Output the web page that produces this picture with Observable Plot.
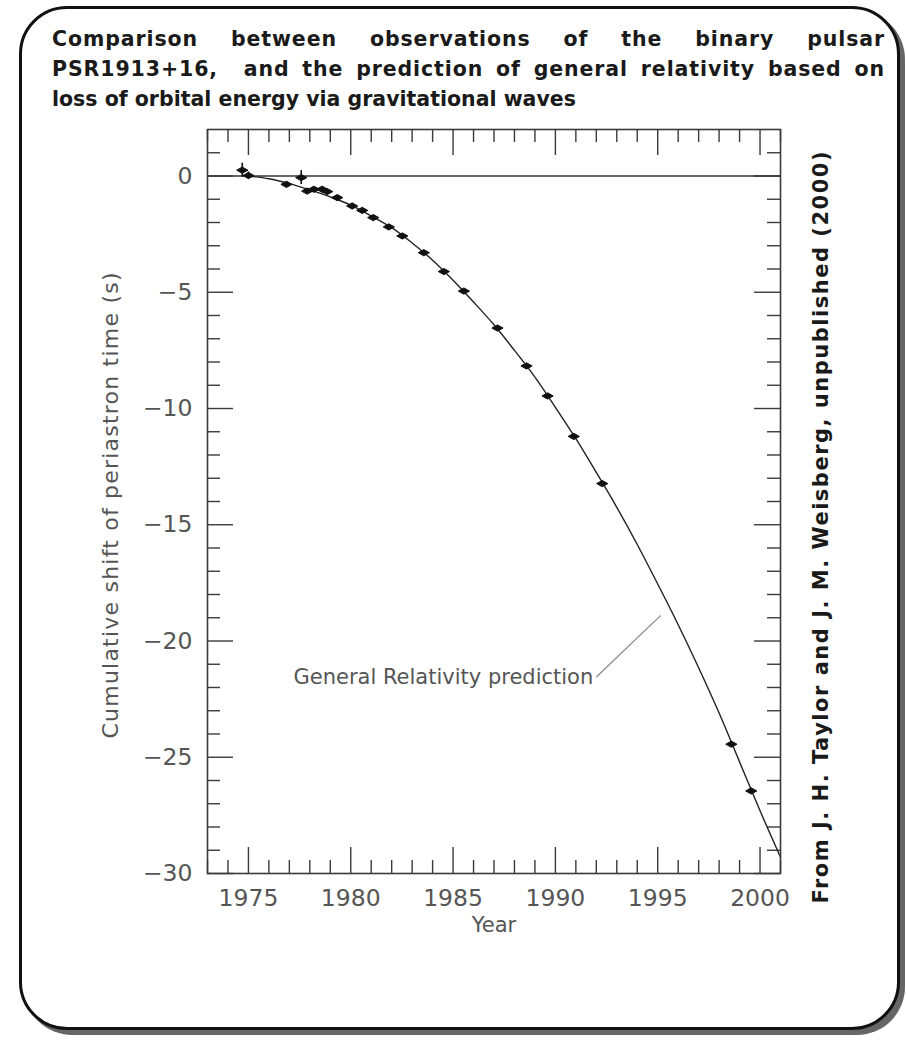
<!DOCTYPE html>
<html><head><meta charset="utf-8">
<script src="https://cdn.jsdelivr.net/npm/d3@7"></script>
<script src="https://cdn.jsdelivr.net/npm/@observablehq/plot@0.6"></script>
<style>
html,body{margin:0;background:#fff;}
body{width:906px;height:1040px;position:relative;overflow:hidden;}
#box{position:absolute;left:19px;top:6px;width:881px;height:1024px;box-sizing:border-box;border:3px solid #111;border-radius:48px;box-shadow:5px 5px 0 #666;background:#fff;}
#title{position:absolute;left:52px;top:24px;width:833px;font-family:"DejaVu Sans";font-weight:bold;font-size:20.5px;line-height:30px;color:#1a1a1a;}
#title .j{text-align:justify;text-align-last:justify;letter-spacing:0.9px;}
#chart{position:absolute;left:60px;top:120px;}
</style></head>
<body>
<div id="box"></div>
<div id="title">
<div class="j">Comparison between observations of the binary pulsar</div>
<div class="j">PSR1913+16,&nbsp; and the prediction of general relativity based on</div>
<div>loss of orbital energy via gravitational waves</div>
</div>
<div id="chart"></div>
<script>
// General Relativity prediction curve
const curveYear  = [1975, 1976, 1977, 1978, 1979, 1980, 1981, 1982, 1983, 1984, 1985, 1986, 1987, 1988, 1989, 1990, 1991, 1992, 1993, 1994, 1995, 1996, 1997, 1998, 1999, 2000, 2001];
const curveShift = [0, -0.12, -0.33, -0.6, -0.9, -1.25, -1.72, -2.22, -2.88, -3.62, -4.48, -5.42, -6.4, -7.5, -8.65, -9.95, -11.3, -12.75, -14.25, -15.85, -17.55, -19.3, -21.15, -23.1, -25.2, -27.3, -29.3];

// Observations
const obsYear  = [1974.7, 1975.0, 1976.86, 1977.58, 1977.87, 1978.2, 1978.6, 1978.85, 1979.34, 1980.07, 1980.56, 1981.1, 1981.86, 1982.52, 1983.57, 1984.55, 1985.53, 1987.17, 1988.59, 1989.62, 1990.9, 1992.29, 1998.6, 1999.57];
const obsShift = [0.25, 0.02, -0.36, -0.07, -0.65, -0.57, -0.57, -0.67, -0.93, -1.29, -1.48, -1.79, -2.19, -2.58, -3.3, -4.11, -4.95, -6.54, -8.17, -9.46, -11.2, -13.23, -24.44, -26.45];
const obsErr   = [0.3, 0.15, 0.1, 0.3, 0.1, 0.08, 0.08, 0.08, 0.08, 0.08, 0.08, 0.08, 0.08, 0.08, 0.08, 0.08, 0.08, 0.08, 0.08, 0.08, 0.08, 0.08, 0.08, 0.08];

// Axis ticks
const xMajor = [1975, 1980, 1985, 1990, 1995, 2000];
const xMinor = [1973, 1974, 1976, 1977, 1978, 1979, 1981, 1982, 1983, 1984, 1986, 1987, 1988, 1989, 1991, 1992, 1993, 1994, 1996, 1997, 1998, 1999, 2001];
const yMajor = [0, -5, -10, -15, -20, -25, -30];
const yMinor = [1, -1, -2, -3, -4, -6, -7, -8, -9, -11, -12, -13, -14, -16, -17, -18, -19, -21, -22, -23, -24, -26, -27, -28, -29];

const xLabel = "Year";
const yLabel = "Cumulative shift of periastron time (s)";
const annotation = "General Relativity prediction";
const annotAt = {year: 1991.85, shift: -21.55};
const leader = {year1: 1992.0, shift1: -21.55, year2: 1995.15, shift2: -18.9};
const credit = "From J. H. Taylor and J. M. Weisberg, unpublished (2000)";

const curve = curveYear.map((y, i) => ({year: y, shift: curveShift[i]}));
const obs = obsYear.map((y, i) => ({year: y, shift: obsShift[i], err: obsErr[i]}));

const W = 830, H = 820;
const mL = 147, mR = 110, mT = 9, mB = 67;
const fw = W - mL - mR, fh = H - mT - mB;
const majLen = 26, minLen = 13;
const axisColor = "#3a3a3a";
const textColor = "#555";

// wide, flat diamond marker as seen in the reference
const flatDiamond = {
  draw(context, size) {
    const r = Math.sqrt(size / Math.PI);
    context.moveTo(-r * 1.7, 0);
    context.lineTo(0, -r * 0.95);
    context.lineTo(r * 1.7, 0);
    context.lineTo(0, r * 0.95);
    context.closePath();
  }
};

const chart = Plot.plot({
  width: W, height: H,
  marginLeft: mL, marginRight: mR, marginTop: mT, marginBottom: mB,
  style: {fontFamily: "DejaVu Sans", background: "transparent", overflow: "visible"},
  x: {domain: [1973, 2001]},
  y: {domain: [-30, 2]},
  marks: [
    Plot.tickX(xMajor, {x: d => d, insetTop: fh - majLen, stroke: axisColor, strokeWidth: 1.4}),
    Plot.tickX(xMinor, {x: d => d, insetTop: fh - minLen, stroke: axisColor, strokeWidth: 1.4}),
    Plot.tickX(xMajor, {x: d => d, insetBottom: fh - majLen, stroke: axisColor, strokeWidth: 1.4}),
    Plot.tickX(xMinor, {x: d => d, insetBottom: fh - minLen, stroke: axisColor, strokeWidth: 1.4}),
    Plot.tickY(yMajor, {y: d => d, insetRight: fw - majLen, stroke: axisColor, strokeWidth: 1.4}),
    Plot.tickY(yMinor, {y: d => d, insetRight: fw - minLen, stroke: axisColor, strokeWidth: 1.4}),
    Plot.tickY(yMajor, {y: d => d, insetLeft: fw - majLen, stroke: axisColor, strokeWidth: 1.4}),
    Plot.tickY(yMinor, {y: d => d, insetLeft: fw - minLen, stroke: axisColor, strokeWidth: 1.4}),
    Plot.ruleY([0], {stroke: "#333", strokeWidth: 1.6}),
    Plot.line(curve, {x: "year", y: "shift", stroke: "#222", strokeWidth: 1.4, curve: "catmull-rom"}),
    Plot.ruleX(obs, {x: "year", y1: d => d.shift - d.err, y2: d => d.shift + d.err, stroke: "#111", strokeWidth: 1.6}),
    Plot.dot(obs, {x: "year", y: "shift", symbol: flatDiamond, r: 3.3, fill: "#111", stroke: "#111", strokeWidth: 1}),
    Plot.link([leader], {x1: "year1", y1: "shift1", x2: "year2", y2: "shift2", stroke: "#888", strokeWidth: 1.2}),
    Plot.text([annotation], {x: annotAt.year, y: annotAt.shift, text: d => d, textAnchor: "end", fontSize: 21, fill: textColor}),
    Plot.frame({stroke: axisColor, strokeWidth: 1.6}),
    Plot.axisX({ticks: xMajor, tickSize: 0, tickPadding: 16, tickFormat: d => String(d), fontSize: 23.5, fill: textColor, label: null}),
    Plot.axisY({ticks: yMajor, tickSize: 0, tickPadding: 15, fontSize: 23.5, fill: textColor, label: null}),
    Plot.text([xLabel], {frameAnchor: "bottom", dy: 58, text: d => d, fontSize: 21, fill: textColor}),
    Plot.text([yLabel], {frameAnchor: "left", textAnchor: "middle", rotate: -90, dx: -97, dy: 4, text: d => d, fontSize: 22, fill: textColor}),
    Plot.text([credit], {frameAnchor: "bottom-right", rotate: -90, textAnchor: "start", dx: 47, dy: 30, text: d => d, fontSize: 21, fontWeight: "bold", fill: "#1a1a1a"})
  ]
});
document.getElementById("chart").appendChild(chart);
// stretch a few labels to the lengths seen in the reference
const stretch = {[credit]: 752, [yLabel]: 466};
chart.querySelectorAll("text").forEach(t => {
  const L = stretch[t.textContent];
  if (L) { t.setAttribute("textLength", L); t.setAttribute("lengthAdjust", "spacing"); }
});
</script>
</body></html>
